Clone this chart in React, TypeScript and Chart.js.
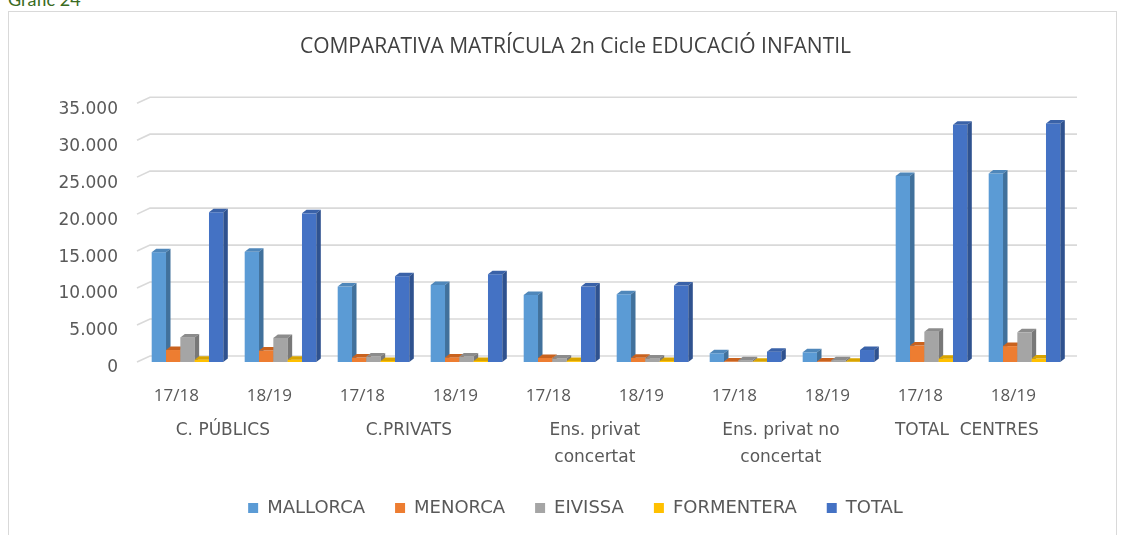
import { useEffect, useRef } from 'react';
import { Chart, registerables } from 'chart.js';

Chart.register(...registerables);

const categories = ['17/18', '18/19', '17/18', '18/19', '17/18', '18/19', '17/18', '18/19', '17/18', '18/19'];
const categoryPositions = [0, 1, 2, 3, 4, 5, 6, 7, 8, 9];
const groupLabels: (string | string[])[] = ['C. PÚBLICS', 'C.PRIVATS', ['Ens. privat', 'concertat'], ['Ens. privat no', 'concertat'], 'TOTAL  CENTRES'];
const groupPositions = [0.5, 2.5, 4.5, 6.5, 8.5];
const seriesNames = ['MALLORCA', 'MENORCA', 'EIVISSA', 'FORMENTERA', 'TOTAL'];

const mallorca = [14850, 14900, 10200, 10420, 9070, 9160, 1180, 1310, 25170, 25490];
const menorca = [1620, 1550, 600, 620, 540, 560, 70, 80, 2220, 2150];
const eivissa = [3330, 3260, 730, 740, 480, 490, 250, 250, 4080, 4010];
const formentera = [300, 310, 150, 150, 120, 130, 30, 30, 450, 460];
const total = [20250, 20100, 11600, 11870, 10200, 10340, 1400, 1620, 32070, 32260];

const yMax = 35000;
const yStep = 5000;
// label rows sit slightly left of the bars' front faces (3D projection)
const labelShift = 0.12;

const frontColors = ['#5B9BD5', '#ED7D31', '#A5A5A5', '#FFC000', '#4472C4'];
const topColors = ['#4F87BA', '#C9621E', '#8C8C8C', '#D9A400', '#3A62A8'];
const sideColors = ['#41719C', '#AE5A21', '#787878', '#BA8C00', '#2F528F'];

const depth = { bx: 4.5, by: 3.5, wx: 13, wy: 6 };

const bar3d = {
  id: 'bar3d',
  beforeDatasetsDraw(chart: any) {
    const { ctx, chartArea, scales } = chart;
    const y = scales.y;
    ctx.save();
    ctx.strokeStyle = '#D9D9D9';
    ctx.lineWidth = 1.6;
    y.ticks.forEach((t: any) => {
      const py = y.getPixelForValue(t.value);
      ctx.beginPath();
      ctx.moveTo(chartArea.left - 4, py);
      ctx.lineTo(chartArea.left - 4 + depth.wx, py - depth.wy);
      ctx.lineTo(chartArea.right + 6, py - depth.wy);
      ctx.stroke();
    });
    const metas = chart.data.datasets.map((_: any, i: number) => chart.getDatasetMeta(i));
    const n = chart.data.labels.length;
    for (let j = 0; j < n; j++) {
      metas.forEach((meta: any, di: number) => {
        const el = meta.data[j];
        if (!el) return;
        const { x, y: top, base, width } = el.getProps(['x', 'y', 'base', 'width'], true);
        const l = x - width / 2;
        const r = x + width / 2;
        const { bx, by } = depth;
        ctx.fillStyle = frontColors[di];
        ctx.fillRect(l, top, width, base - top);
        ctx.fillStyle = topColors[di];
        ctx.beginPath();
        ctx.moveTo(l, top);
        ctx.lineTo(l + bx, top - by);
        ctx.lineTo(r + bx, top - by);
        ctx.lineTo(r, top);
        ctx.closePath();
        ctx.fill();
        ctx.fillStyle = sideColors[di];
        ctx.beginPath();
        ctx.moveTo(r, top);
        ctx.lineTo(r + bx, top - by);
        ctx.lineTo(r + bx, base - by);
        ctx.lineTo(r, base);
        ctx.closePath();
        ctx.fill();
      });
    }
    ctx.restore();
    return false;
  },
};

const fmt = (v: number) => String(v).replace(/\B(?=(\d{3})+(?!\d))/g, '.');

export default function App() {
  const ref = useRef<HTMLCanvasElement>(null);
  useEffect(() => {
    const seriesValues = [mallorca, menorca, eivissa, formentera, total];
    const chart = new Chart(ref.current!, {
      type: 'bar',
      data: {
        labels: categories,
        datasets: seriesNames.map((name, i) => ({
          label: name,
          data: seriesValues[i],
          backgroundColor: frontColors[i],
          borderWidth: 0,
          barPercentage: 1,
          categoryPercentage: 0.77,
        })),
      },
      options: {
        responsive: false,
        animation: false,
        layout: { padding: { top: 0, right: 0, bottom: 8, left: 26 } },
        plugins: {
          title: {
            display: true,
            text: 'COMPARATIVA MATRÍCULA 2n Cicle EDUCACIÓ INFANTIL',
            color: '#404040',
            font: { family: 'Open Sans', size: 21, weight: 'normal', lineHeight: 1.2 },
            padding: { top: 22, bottom: 44 },
          },
          legend: {
            position: 'bottom',
            labels: {
              color: '#595959',
              font: { family: 'DejaVu Sans', size: 18 },
              boxWidth: 10,
              boxHeight: 10,
              padding: 30,
            },
          },
          tooltip: { enabled: false },
        },
        scales: {
          x: {
            type: 'category',
            display: false,
            grid: { display: false },
          },
          xl: {
            type: 'linear',
            position: 'bottom',
            weight: 0,
            offset: false,
            min: -0.5 + labelShift,
            max: 9.5 + labelShift,
            grid: { display: false, drawTicks: false },
            border: { display: false },
            afterBuildTicks: (s: any) => { s.ticks = categoryPositions.map((v) => ({ value: v })); },
            ticks: {
              color: '#595959',
              font: { family: 'Open Sans', size: 17, lineHeight: 1.2 },
              padding: 24,
              maxRotation: 0,
              autoSkip: false,
              callback: (_v: any, i: number) => categories[i],
            },
            afterFit: (s: any) => { s.height = 50; },
          },
          xg: {
            type: 'linear',
            position: 'bottom',
            weight: 1,
            offset: false,
            min: -0.5 + labelShift,
            max: 9.5 + labelShift,
            grid: { display: false, drawTicks: false },
            border: { display: false },
            afterBuildTicks: (s: any) => { s.ticks = groupPositions.map((v) => ({ value: v })); },
            ticks: {
              color: '#595959',
              font: { family: 'DejaVu Sans', size: 17, lineHeight: 1.58 },
              padding: 5,
              maxRotation: 0,
              autoSkip: false,
              callback: (_v: any, i: number) => groupLabels[i],
            },
            afterFit: (s: any) => { s.height = 57; },
          },
          y: {
            min: 0,
            max: yMax,
            grid: { display: false, drawTicks: false },
            border: { display: false },
            ticks: {
              stepSize: yStep,
              color: '#595959',
              font: { family: 'DejaVu Sans', size: 17 },
              padding: 23,
              labelOffset: 6,
              callback: (v: any) => fmt(Number(v)),
            },
            afterFit: (s: any) => { s.width = 106; },
          },
          yr: {
            type: 'linear',
            position: 'right',
            display: true,
            grid: { display: false, drawTicks: false },
            border: { display: false },
            ticks: { display: false },
            afterFit: (s: any) => { s.width = 45; },
          },
        },
      },
      plugins: [bar3d],
    });
    return () => chart.destroy();
  }, []);

  return (
    <div style={{ position: 'absolute', left: 0, top: 0, width: 1129, height: 535, overflow: 'hidden', background: '#fff' }}>
      <div style={{ position: 'absolute', left: 8, top: -11, fontFamily: 'Lato', fontSize: 18, lineHeight: '20px', color: '#3A6B22' }}>Gràfic 24</div>
      <div style={{ position: 'absolute', left: 8, top: 11, width: 1109, height: 540, border: '1px solid #D9D9D9', boxSizing: 'border-box' }}>
        <canvas ref={ref} width={1107} height={523} style={{ display: 'block' }} />
      </div>
    </div>
  );
}
